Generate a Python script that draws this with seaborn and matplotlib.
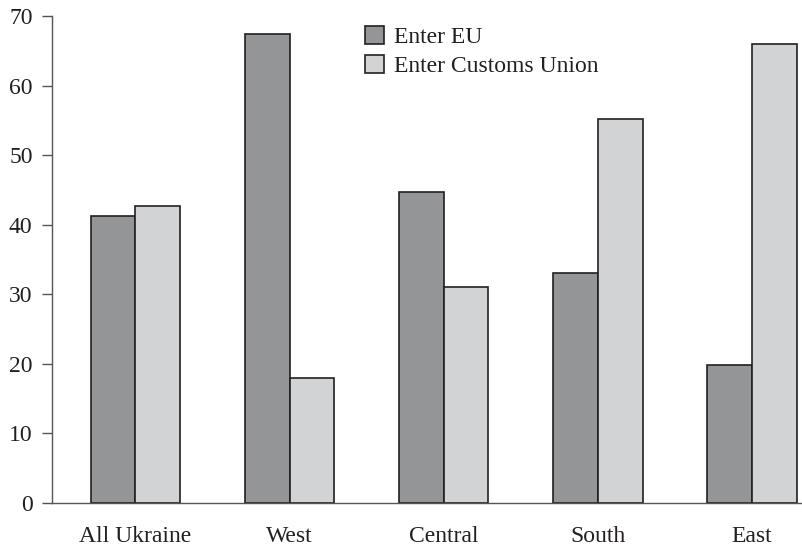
import matplotlib

matplotlib.use("Agg")
import matplotlib.pyplot as plt  # noqa: E402
import pandas as pd  # noqa: E402
import seaborn as sns  # noqa: E402

# ---------------------------------------------------------------------------
# Data
# ---------------------------------------------------------------------------
regions = ["All Ukraine", "West", "Central", "South", "East"]
enter_eu = [41.2, 67.5, 44.7, 33.1, 19.8]
enter_cu = [42.7, 17.9, 31.1, 55.3, 66.0]
series = ["Enter EU", "Enter Customs Union"]
colors = ["#939598", "#d1d3d4"]

df = pd.DataFrame({
    "region": regions * 2,
    "share": enter_eu + enter_cu,
    "series": [series[0]] * len(regions) + [series[1]] * len(regions),
})

sns.set_theme(style="ticks")
plt.rcParams["font.family"] = ["Liberation Serif", "DejaVu Serif"]

fig = plt.figure(figsize=(8.03, 5.47), dpi=100)
ax = fig.add_axes([0.0648, 0.081, 0.9352, 0.889])

sns.barplot(
    data=df, x="region", y="share", hue="series", order=regions,
    hue_order=series, palette=colors, width=0.58, gap=0,
    edgecolor="#231f20", linewidth=1.2, ax=ax,
)

ax.set_xlim(-0.54, 4.33)
ax.set_ylim(0, 70)
ax.set_yticks(range(0, 71, 10))
ax.set_xlabel("")
ax.set_ylabel("")
ax.tick_params(axis="y", labelsize=17, length=7, width=1, color="#555555",
               pad=7, labelcolor="#231f20")
ax.tick_params(axis="x", labelsize=17, length=0, pad=17, labelcolor="#231f20")
for side in ("top", "right"):
    ax.spines[side].set_visible(False)
for side in ("left", "bottom"):
    ax.spines[side].set_color("#555555")
    ax.spines[side].set_linewidth(1.0)

handles, labels = ax.get_legend_handles_labels()
ax.legend(
    handles, labels, loc="upper left", bbox_to_anchor=(0.404, 1.0),
    frameon=False, fontsize=17, handlelength=0.8, handleheight=0.8,
    handletextpad=0.45, labelspacing=0.3, borderaxespad=0.0,
    labelcolor="#231f20",
)

fig.savefig("out.png", dpi=100)
plt.close(fig)
